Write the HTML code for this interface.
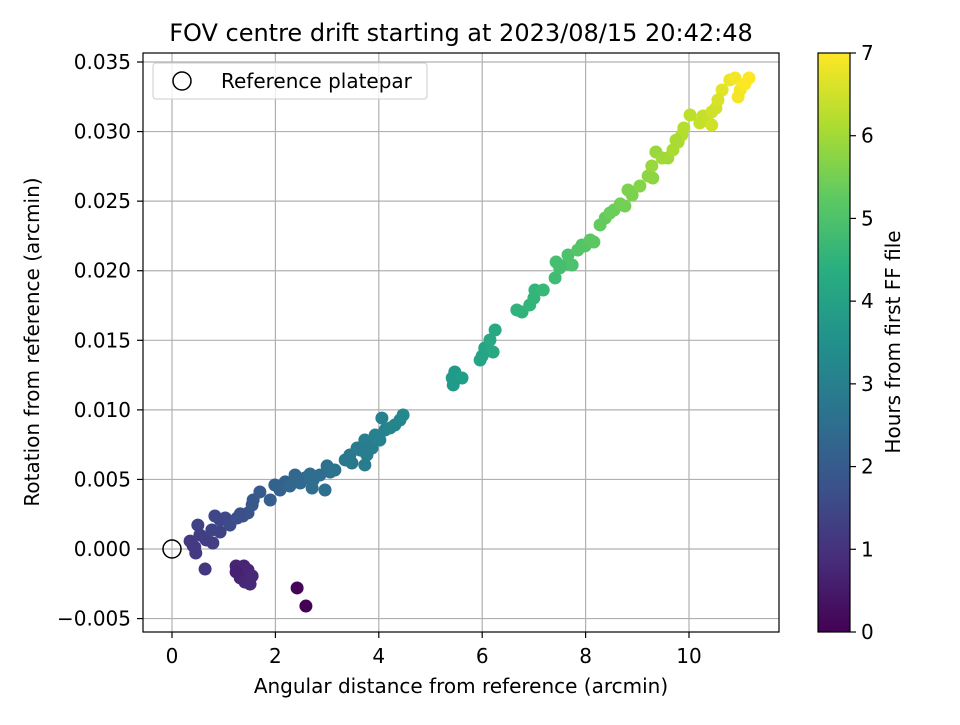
<!DOCTYPE html>
<html><head><meta charset="utf-8"><style>
body{margin:0;background:#fff}
svg text{font-family:"DejaVu Sans","Liberation Sans",sans-serif;fill:#000}
</style></head><body>
<svg id="chart" width="960" height="720" xmlns="http://www.w3.org/2000/svg">
<defs>
<linearGradient id="vir" x1="0" y1="1" x2="0" y2="0">
<stop offset="0" stop-color="#440154"/><stop offset="0.125" stop-color="#472d7b"/><stop offset="0.25" stop-color="#3b528b"/><stop offset="0.375" stop-color="#2c728e"/><stop offset="0.5" stop-color="#21918c"/><stop offset="0.625" stop-color="#28ae80"/><stop offset="0.75" stop-color="#5ec962"/><stop offset="0.875" stop-color="#addc30"/><stop offset="1" stop-color="#fde725"/>
</linearGradient>
<clipPath id="clip"><rect x="143" y="53" width="636" height="579"/></clipPath>
</defs>
<text x="461" y="41" font-size="24" text-anchor="middle">FOV centre drift starting at 2023/08/15 20:42:48</text>
<g id="grid"></g>
<g id="points" clip-path="url(#clip)"></g>
<circle id="refmark" r="9" fill="none" stroke="#000" stroke-width="1.5"/>
<rect x="143" y="53" width="636" height="579" fill="none" stroke="#000" stroke-width="1.2"/>
<g id="ticks"></g>
<text x="461" y="693" font-size="20" text-anchor="middle">Angular distance from reference (arcmin)</text>
<text transform="translate(39,342) rotate(-90)" font-size="20" text-anchor="middle">Rotation from reference (arcmin)</text>
<g>
<rect x="153" y="63" width="274" height="36" rx="3" fill="#fff" fill-opacity="0.8" stroke="#ccc"/>
<circle cx="182" cy="81" r="9" fill="none" stroke="#000" stroke-width="1.5"/>
<text x="221" y="88" font-size="20">Reference platepar</text>
</g>
<rect x="818" y="53" width="32" height="579" fill="url(#vir)" stroke="#000" stroke-width="1.2"/>
<g id="cbticks"></g>
<text transform="translate(900,342) rotate(-90)" font-size="20" text-anchor="middle">Hours from first FF file</text>
</svg>
<script>
const xTicks=[0,2,4,6,8,10];
const yTicks=[-0.005,0,0.005,0.01,0.015,0.02,0.025,0.03,0.035];
const yTickLabels=["\u22120.005","0.000","0.005","0.010","0.015","0.020","0.025","0.030","0.035"];
const cbTicks=[0,1,2,3,4,5,6,7];
const xs=[2.42,2.59,1.24,1.39,1.47,1.32,1.41,1.51,1.24,1.55,0.64,0.35,0.44,0.50,0.41,0.46,0.54,0.66,0.83,0.93,0.79,0.64,0.93,1.03,0.77,1.12,1.26,1.37,1.47,1.55,1.57,1.32,1.70,1.90,1.99,2.09,2.19,2.28,2.38,2.48,2.57,2.67,2.73,2.86,3.00,2.96,2.71,3.06,3.15,3.35,3.44,3.58,3.48,3.73,3.83,3.93,4.02,4.12,4.22,4.31,4.41,4.47,4.06,3.64,3.77,3.87,3.98,3.73,5.42,5.47,5.61,5.44,5.96,6.05,6.15,6.25,6.21,6.00,6.67,6.77,6.92,7.02,7.00,7.18,7.41,7.43,7.50,7.64,7.74,7.66,7.85,7.93,7.99,8.09,8.16,8.28,8.38,8.47,8.55,8.67,8.76,8.82,8.90,9.05,9.21,9.30,9.28,9.36,9.48,9.59,9.69,9.79,9.86,9.90,9.75,10.21,10.27,10.35,10.44,10.52,10.44,10.64,10.79,10.89,10.99,11.08,11.16,10.95,10.56,10.02];
const ysMilli=[-2.80,-4.10,-1.22,-1.22,-1.51,-2.08,-2.37,-2.52,-1.65,-1.94,-1.44,0.57,0.14,1.72,0.22,-0.29,1.01,0.65,2.37,1.22,0.43,0.79,2.08,2.23,1.37,1.72,2.23,2.37,2.59,3.16,3.52,2.52,4.10,3.52,4.60,4.24,4.82,4.53,5.32,4.74,5.10,5.39,4.96,5.32,5.97,4.24,4.38,5.53,5.68,6.40,6.76,7.26,6.18,7.83,7.47,8.19,7.83,8.55,8.70,8.91,9.27,9.63,9.41,7.11,6.76,7.26,7.98,6.04,12.29,12.72,12.29,11.79,13.58,14.45,15.02,15.74,14.16,13.87,17.18,17.03,17.54,18.61,18.04,18.61,19.48,20.63,20.20,20.48,20.41,21.13,21.49,21.85,21.78,22.21,22.06,23.29,23.79,24.15,24.36,24.80,24.65,25.80,25.44,26.09,26.81,26.66,27.53,28.53,28.10,28.10,28.68,29.25,29.75,30.26,29.39,30.62,31.12,30.83,31.41,31.69,30.47,32.99,33.71,33.85,32.99,33.42,33.85,32.49,32.27,31.19];
const hours=[0.1,0.0,0.7,0.7,0.75,0.7,0.75,0.8,0.65,0.8,1.1,1.2,1.2,1.4,1.2,1.2,1.3,1.3,1.5,1.4,1.3,1.3,1.5,1.5,1.4,1.6,1.7,1.7,1.8,1.9,1.9,1.7,2.0,2.1,2.2,2.2,2.2,2.3,2.3,2.4,2.4,2.5,2.5,2.5,2.6,2.6,2.5,2.6,2.7,2.8,2.8,2.9,2.8,3.0,3.0,3.1,3.1,3.1,3.2,3.2,3.2,3.3,3.1,2.9,3.0,3.0,3.1,2.9,3.8,3.8,3.9,3.8,4.1,4.1,4.2,4.2,4.2,4.1,4.5,4.5,4.6,4.6,4.6,4.7,4.8,4.9,4.9,4.9,5.0,5.0,5.1,5.1,5.1,5.2,5.2,5.3,5.3,5.4,5.4,5.5,5.5,5.6,5.6,5.7,5.8,5.8,5.9,5.9,6.0,6.0,6.1,6.1,6.2,6.2,6.1,6.4,6.4,6.4,6.5,6.5,6.5,6.7,6.8,6.9,6.9,7.0,7.0,6.9,6.6,6.3];
const refPoint=[0,0];

const NS="http://www.w3.org/2000/svg";
const X=v=>172+v*51.7;
const Y=v=>549-v*13914;
const CB=v=>632-v*(579/7);
const vstops=["#440154","#482878","#3e4989","#31688e","#26828e","#1f9e89","#35b779","#6ece58","#b5de2b","#fde725"];
function hex(c){return [1,3,5].map(i=>parseInt(c.substr(i,2),16));}
function viridis(t){t=Math.max(0,Math.min(1,t));const p=t*(vstops.length-1),i=Math.min(Math.floor(p),vstops.length-2),f=p-i;const a=hex(vstops[i]),b=hex(vstops[i+1]);return "rgb("+a.map((v,k)=>Math.round(v+(b[k]-v)*f)).join(",")+")";}
function mk(tag,attrs,parent,txt){const e=document.createElementNS(NS,tag);for(const k in attrs)e.setAttribute(k,attrs[k]);if(txt!==undefined)e.textContent=txt;parent.appendChild(e);return e;}
const grid=document.getElementById('grid'),ticks=document.getElementById('ticks');
xTicks.forEach(v=>{
 const g=mk('line',{x1:X(v),x2:X(v),y1:53,y2:632,stroke:'#b0b0b0','stroke-width':1.2},grid);
 
 
 const t=mk('line',{x1:X(v),x2:X(v),y1:632,y2:638,stroke:'#000','stroke-width':1.2},ticks);
 
 
 const l=mk('text',{x:X(v),y:663,'font-size':20,'text-anchor':'middle'},ticks,String(v));
 
 
});
yTicks.forEach((v,i)=>{
 const g=mk('line',{x1:143,x2:779,y1:Y(v),y2:Y(v),stroke:'#b0b0b0','stroke-width':1.2},grid);
 
 
 const t=mk('line',{x1:137,x2:143,y1:Y(v),y2:Y(v),stroke:'#000','stroke-width':1.2},ticks);
 
 
 const l=mk('text',{x:131,y:Y(v)+7,'font-size':20,'text-anchor':'end'},ticks,yTickLabels[i]);
 
 
});
const pts=document.getElementById('points');
xs.forEach((x,i)=>{
 const c=mk('circle',{cx:X(x),cy:Y(ysMilli[i]/1000),r:6.5,fill:viridis(hours[i]/7)},pts);
 
 
});
const rm=document.getElementById('refmark');rm.setAttribute('cx',X(refPoint[0]));rm.setAttribute('cy',Y(refPoint[1]));
const cbt=document.getElementById('cbticks');
cbTicks.forEach(v=>{
 const t=mk('line',{x1:850,x2:856,y1:CB(v),y2:CB(v),stroke:'#000','stroke-width':1.2},cbt);
 
 
 const l=mk('text',{x:861,y:CB(v)+7,'font-size':20},cbt,String(v));
 
 
});
</script>
</body></html>
